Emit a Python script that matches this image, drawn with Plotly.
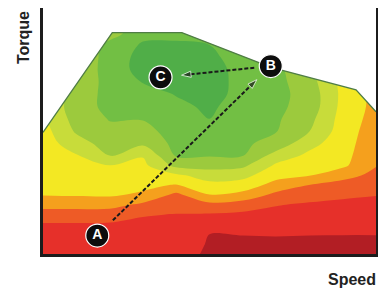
import plotly.graph_objects as go

# ---- data ----
speed_nodes = [0, 10, 20, 30, 40, 50, 60, 70, 80, 90, 100]
torque_nodes = [0, 4, 8, 12, 16, 20, 24, 28, 32, 36, 40, 45, 50, 55, 60, 65, 70, 75, 80, 85, 90, 95]

# efficiency level (0 = lowest band ... 8 = best band), rows follow torque_nodes
efficiency_grid = [
    [1.30, 1.30, 1.30, 1.30, 1.50, 0.80, 0.30, 0.30, 0.30, 0.30, 0.30],
    [1.50, 1.50, 1.50, 1.48, 1.62, 0.90, 0.67, 0.70, 0.67, 0.67, 0.67],
    [1.71, 1.71, 1.70, 1.66, 1.74, 1.00, 1.05, 1.08, 1.04, 1.03, 1.03],
    [1.91, 1.91, 1.90, 1.83, 1.86, 1.45, 1.42, 1.39, 1.32, 1.29, 1.28],
    [2.48, 2.48, 2.43, 2.05, 1.97, 1.90, 1.80, 1.71, 1.60, 1.55, 1.52],
    [3.38, 3.38, 3.38, 2.77, 2.32, 2.70, 2.48, 2.05, 1.88, 1.81, 1.77],
    [4.03, 4.08, 4.11, 3.84, 2.74, 3.96, 3.68, 2.72, 2.36, 2.14, 2.03],
    [4.12, 4.28, 4.40, 4.23, 3.94, 4.70, 4.55, 3.64, 2.98, 2.67, 2.40],
    [4.21, 4.49, 4.70, 4.49, 4.81, 5.48, 5.31, 4.34, 4.06, 3.31, 2.77],
    [4.30, 4.70, 4.99, 4.75, 6.28, 6.37, 6.21, 4.84, 4.42, 4.20, 3.04],
    [4.39, 4.91, 6.10, 5.07, 7.09, 7.07, 7.04, 5.60, 4.77, 4.35, 3.16],
    [4.50, 5.57, 6.46, 6.21, 7.28, 7.32, 7.17, 6.67, 5.33, 4.45, 3.31],
    [4.60, 6.14, 6.81, 6.64, 7.47, 7.60, 7.30, 7.05, 6.02, 4.52, 3.46],
    [4.80, 6.42, 7.05, 7.06, 7.62, 8.00, 7.43, 7.14, 6.30, 4.60, 3.61],
    [4.80, 6.70, 7.17, 7.35, 7.80, 8.15, 7.60, 7.22, 6.60, 4.70, 3.70],
    [4.80, 6.50, 7.28, 7.62, 8.05, 8.30, 7.74, 7.30, 6.60, 4.75, 3.70],
    [4.80, 6.20, 7.39, 8.05, 8.30, 8.35, 7.74, 7.30, 6.40, 4.70, 3.70],
    [4.80, 6.20, 7.45, 8.35, 8.40, 8.35, 7.70, 7.25, 6.20, 4.70, 3.70],
    [4.80, 6.20, 7.40, 8.35, 8.40, 8.20, 7.60, 7.00, 6.20, 4.70, 3.70],
    [4.80, 6.20, 7.30, 8.12, 8.15, 8.00, 7.50, 7.00, 6.20, 4.70, 3.70],
    [4.80, 6.20, 6.50, 7.70, 7.70, 7.70, 7.50, 7.00, 6.20, 4.70, 3.70],
    [4.80, 6.20, 6.50, 7.70, 7.70, 7.70, 7.50, 7.00, 6.20, 4.70, 3.70],
]

band_colors = ["#b21e24", "#e6302a", "#ee5b26", "#f5a01d", "#f3e823",
               "#c8dc3a", "#9cca3d", "#72bf44", "#50ae48"]

# maximum-torque envelope
envelope_speed = [0, 20.8, 41.7, 68.5, 94.0, 100]
envelope_torque = [49.4, 90.0, 90.0, 75.9, 66.7, 57.8]

# operating points
point_labels = ["A", "B", "C"]
point_speed = [16.3, 68.4, 35.3]
point_torque = [7.5, 76.4, 71.8]
moves = [("A", "B"), ("B", "C")]

# ---- figure ----
n = len(band_colors)
colorscale = [[i / (n - 1), c] for i, c in enumerate(band_colors)]
FONT = "Liberation Sans, Arial, sans-serif"

fig = go.Figure()
fig.add_trace(go.Contour(
    x=speed_nodes, y=torque_nodes, z=efficiency_grid,
    colorscale=colorscale, showscale=False,
    contours=dict(start=1, end=n - 1, size=1, coloring="fill", showlines=False),
    line=dict(width=0, smoothing=1.0),
    hoverinfo="skip",
))

top = 120
fig.add_trace(go.Scatter(
    x=envelope_speed + [envelope_speed[-1], envelope_speed[0]],
    y=envelope_torque + [top, top],
    fill="toself", fillcolor="white", mode="lines",
    line=dict(width=0, color="white"), hoverinfo="skip", showlegend=False,
))
fig.add_trace(go.Scatter(
    x=envelope_speed, y=envelope_torque, mode="lines",
    line=dict(width=1.3, color="#4f7d45"), hoverinfo="skip", showlegend=False,
))

trim = {("A", "B"): (0.09, 0.92), ("B", "C"): (0.15, 0.81)}
idx = {l: i for i, l in enumerate(point_labels)}
for a, b in moves:
    ia, ib = idx[a], idx[b]
    t0, t1 = trim[(a, b)]
    dx = point_speed[ib] - point_speed[ia]
    dy = point_torque[ib] - point_torque[ia]
    xs = [point_speed[ia] + t0 * dx, point_speed[ia] + t1 * dx]
    ys = [point_torque[ia] + t0 * dy, point_torque[ia] + t1 * dy]
    fig.add_trace(go.Scatter(
        x=xs, y=ys, mode="lines+markers",
        line=dict(color="#1a1a1a", width=2, dash="4px,2px"),
        marker=dict(symbol="arrow", angleref="previous", size=[0, 10],
                    color="#1a1a1a"),
        hoverinfo="skip", showlegend=False,
    ))

fig.add_trace(go.Scatter(
    x=point_speed, y=point_torque, mode="markers+text",
    text=point_labels, textposition="middle center",
    textfont=dict(family=FONT, size=14, color="white", weight="bold"),
    marker=dict(size=23, color="#0d0d0d", line=dict(color="white", width=1.2)),
    hoverinfo="skip", showlegend=False,
))

fig.add_annotation(text="Torque", xref="paper", yref="paper", x=-0.06, y=0.878,
                   xanchor="center", yanchor="middle",
                   textangle=-90, showarrow=False,
                   font=dict(family=FONT, size=16, color="#222222", weight="bold"))
fig.add_annotation(text="Speed", xref="paper", yref="paper", x=0.928, y=-0.102,
                   xanchor="center", yanchor="middle", showarrow=False,
                   font=dict(family=FONT, size=16, color="#222222", weight="bold"))

# the page body adds an 8px offset, so the figure is 8px smaller each way
fig.update_layout(
    width=378, height=283,
    margin=dict(l=35, r=10, t=0, b=37),
    paper_bgcolor="white", plot_bgcolor="white",
    showlegend=False,
    xaxis=dict(range=[0, 100], showgrid=False, zeroline=False, showticklabels=False,
               ticks="", showline=True, linecolor="#1c1c1c", linewidth=3),
    yaxis=dict(range=[0, 100], showgrid=False, zeroline=False, showticklabels=False,
               ticks="", showline=True, linecolor="#1c1c1c", linewidth=3, mirror=True),
)

fig.write_html("out.html")
